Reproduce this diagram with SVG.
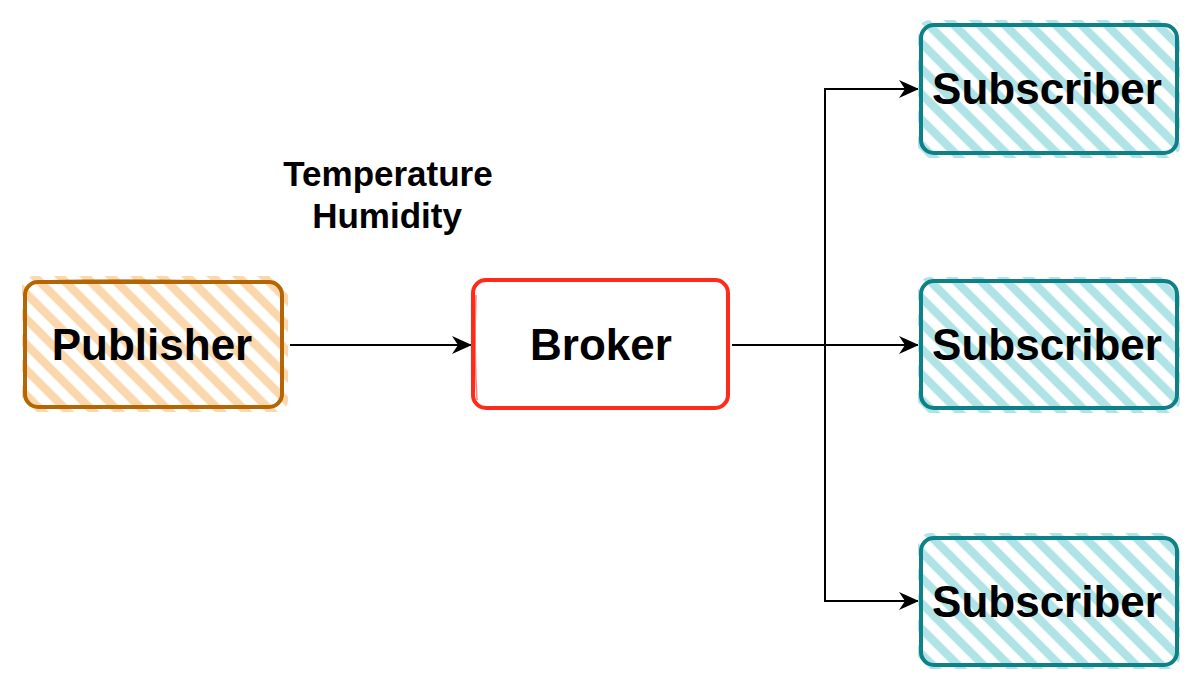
<svg xmlns="http://www.w3.org/2000/svg" width="1200" height="688" viewBox="0 0 1200 688">
<style>
  .lbl { font-family: "Liberation Sans", Arial, sans-serif; font-weight: bold; fill: #000; text-anchor: middle; }
  .node { font-size: 44px; }
  .edge { fill: none; stroke: #000; stroke-width: 2; }
  .border { fill: none; stroke-width: 4; stroke-linejoin: round; }
</style>
<defs>
  <pattern id="hatchOrange" width="18" height="18" patternUnits="userSpaceOnUse" patternTransform="rotate(45)">
    <line x1="0" y1="9" x2="18" y2="9" stroke="#fad7ac" stroke-width="8.5"/>
  </pattern>
  <pattern id="hatchTeal" width="18" height="18" patternUnits="userSpaceOnUse" patternTransform="rotate(45)">
    <line x1="0" y1="9" x2="18" y2="9" stroke="#b0e3e6" stroke-width="8.5"/>
  </pattern>
  <marker id="arrow" viewBox="0 0 20 18" refX="19" refY="9" markerWidth="20" markerHeight="18" markerUnits="userSpaceOnUse" orient="auto">
    <path d="M0,0 L20,9 L0,18 L6,9 Z" fill="#000"/>
  </marker>
</defs>

<g id="connectors">
  <line class="edge" x1="290" y1="345" x2="471" y2="345" marker-end="url(#arrow)"/>
  <line class="edge" x1="732" y1="345" x2="918" y2="345" marker-end="url(#arrow)"/>
  <polyline class="edge" points="825,345 825,89 918,89" marker-end="url(#arrow)"/>
  <polyline class="edge" points="825,345 825,601 918,601" marker-end="url(#arrow)"/>
</g>

<g id="label-topics">
  <text class="lbl" x="388" y="186" font-size="35">Temperature</text>
  <text class="lbl" x="387" y="228" font-size="35">Humidity</text>
</g>

<g id="publisher">
  <rect x="22" y="276" width="266" height="136" rx="12" fill="url(#hatchOrange)"/>
  <rect class="border" x="25" y="282" width="257" height="125" rx="13" stroke="#b46504"/>
  <path d="M40,281 Q150,278 270,283" fill="none" stroke="#b46504" stroke-width="1.5" opacity="0.6"/>
  <text class="lbl node" x="152" y="360">Publisher</text>
</g>

<g id="broker">
  <rect x="473" y="280" width="255" height="128" rx="13" fill="#fff"/>
  <rect class="border" x="473" y="280" width="255" height="128" rx="13" stroke="#ff2a1a"/>
  <path d="M476,295 Q474,350 477,400" fill="none" stroke="#ff2a1a" stroke-width="1.5" opacity="0.6"/>
  <text class="lbl node" x="601" y="360">Broker</text>
</g>

<g id="subscriber1">
  <rect x="918" y="20" width="262" height="138" rx="12" fill="url(#hatchTeal)"/>
  <rect class="border" x="921" y="25" width="256" height="128" rx="13" stroke="#0e8088"/>
  <text class="lbl node" x="1047" y="104">Subscriber</text>
</g>

<g id="subscriber2">
  <rect x="918" y="277" width="262" height="136" rx="12" fill="url(#hatchTeal)"/>
  <rect class="border" x="921" y="281" width="256" height="127" rx="13" stroke="#0e8088"/>
  <text class="lbl node" x="1047" y="360">Subscriber</text>
</g>

<g id="subscriber3">
  <rect x="918" y="533" width="262" height="136" rx="12" fill="url(#hatchTeal)"/>
  <rect class="border" x="921" y="538" width="256" height="127" rx="13" stroke="#0e8088"/>
  <text class="lbl node" x="1047" y="617">Subscriber</text>
</g>
</svg>
